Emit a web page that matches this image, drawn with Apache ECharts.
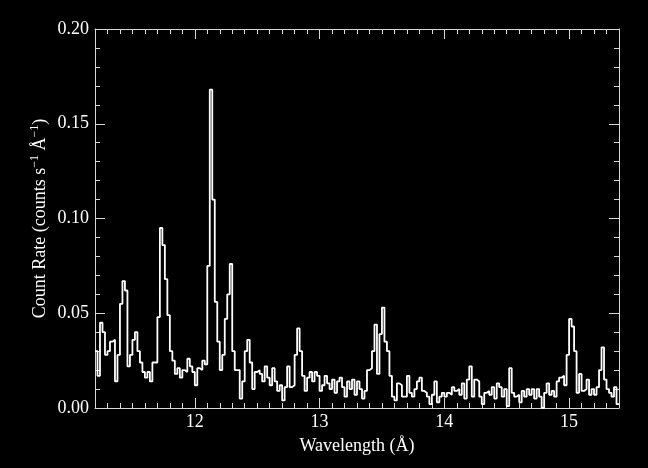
<!DOCTYPE html>
<html>
<head>
<meta charset="utf-8">
<script src="https://cdn.jsdelivr.net/npm/echarts@6/dist/echarts.min.js"></script>
<style>
html,body{margin:0;padding:0;background:#000;}
#c{width:648px;height:468px;}
</style>
</head>
<body>
<div id="c"></div>
<script>
// Wavelength grid (Å): bins of 0.02 Å starting at 11.20
const binStart = 11.20;
const binWidth = 0.02;
const xTicks = [12, 13, 14, 15];

// Count rate (counts s^-1 Å^-1), one value per bin
const rate1120 = [0.030, 0.017, 0.045, 0.040, 0.028, 0.030, 0.035, 0.036, 0.014, 0.028,
                  0.055, 0.067, 0.062, 0.022, 0.028, 0.036, 0.040, 0.030, 0.024, 0.019,
                  0.016, 0.019, 0.014, 0.024, 0.024, 0.048, 0.095, 0.086, 0.068, 0.049,
                  0.030, 0.025, 0.018, 0.021, 0.016, 0.020, 0.019, 0.026, 0.022, 0.019];
const rate1200 = [0.012, 0.021, 0.020, 0.025, 0.023, 0.075, 0.168, 0.110, 0.056, 0.035,
                  0.020, 0.028, 0.047, 0.060, 0.076, 0.030, 0.020, 0.020, 0.005, 0.014,
                  0.030, 0.036, 0.024, 0.010, 0.019, 0.020, 0.018, 0.014, 0.022, 0.016,
                  0.012, 0.021, 0.014, 0.009, 0.012, 0.004, 0.011, 0.022, 0.011, 0.012];
const rate1280 = [0.028, 0.042, 0.030, 0.017, 0.009, 0.016, 0.019, 0.014, 0.019, 0.017,
                  0.009, 0.012, 0.017, 0.013, 0.010, 0.015, 0.008, 0.014, 0.016, 0.011,
                  0.006, 0.014, 0.010, 0.015, 0.007, 0.014, 0.010, 0.005, 0.009, 0.020,
                  0.021, 0.030, 0.044, 0.018, 0.039, 0.053, 0.035, 0.030, 0.017, 0.006];
const rate1360 = [0.004, 0.013, 0.012, 0.006, 0.006, 0.017, 0.008, 0.006, 0.010, 0.014,
                  0.016, 0.009, 0.008, 0.006, 0.002, 0.007, 0.014, 0.003, 0.006, 0.008,
                  0.006, 0.008, 0.007, 0.011, 0.009, 0.010, 0.007, 0.013, 0.005, 0.015,
                  0.022, 0.006, 0.015, 0.014, 0.006, 0.002, 0.008, 0.009, 0.007, 0.011];
const rate1440 = [0.005, 0.013, 0.011, 0.006, 0.010, 0.001, 0.021, 0.008, 0.006, 0.007,
                  0.003, 0.009, 0.006, 0.010, 0.007, 0.010, 0.005, 0.010, 0.006, 0.000,
                  0.008, 0.013, 0.007, 0.009, 0.006, 0.014, 0.016, 0.017, 0.012, 0.028,
                  0.047, 0.043, 0.030, 0.008, 0.018, 0.009, 0.010, 0.015, 0.007, 0.010,
                  0.007, 0.011, 0.020, 0.032, 0.015, 0.010, 0.008, 0.006, 0.011, 0.002];

const rate = [].concat(rate1120, rate1200, rate1280, rate1360, rate1440);
const data = rate.map((v, i) => [+(binStart + i * binWidth).toFixed(2), v]);
data.push([+(binStart + rate.length * binWidth).toFixed(2), rate[rate.length - 1]]);

const FONT = "'Liberation Serif', 'DejaVu Serif', serif";
const AXC = '#d8d8d8';
const FS = 18;

const chart = echarts.init(document.getElementById('c'), null, {renderer: 'canvas'});
const xMin = 11.2, xMax = 15.4;
const baseX = {
  type: 'value', min: xMin, max: xMax, gridIndex: 0,
  splitLine: {show: false}
};
chart.setOption({
  backgroundColor: '#000',
  animation: false,
  grid: {left: 95, right: 29, top: 29, bottom: 60},
  xAxis: [
    Object.assign({}, baseX, {
      position: 'bottom',
      axisLine: {show: true, lineStyle: {color: AXC, width: 1}},
      axisTick: {show: true, inside: true, length: 10, customValues: xTicks, lineStyle: {color: AXC}},
      axisLabel: {show: true, customValues: xTicks, color: '#fff', fontFamily: FONT, fontSize: FS, margin: 5},
      name: 'Wavelength (Å)', nameLocation: 'middle', nameGap: 29, nameMoveOverlap: false,
      nameTextStyle: {color: '#fff', fontFamily: FONT, fontSize: FS}
    }),
    Object.assign({}, baseX, {
      position: 'bottom', interval: 0.1,
      axisLine: {show: false},
      axisTick: {show: true, inside: true, length: 5, lineStyle: {color: AXC}},
      axisLabel: {show: false}
    }),
    Object.assign({}, baseX, {
      position: 'top',
      axisLine: {show: true, lineStyle: {color: AXC, width: 1}},
      axisTick: {show: true, inside: true, length: 10, customValues: xTicks, lineStyle: {color: AXC}},
      axisLabel: {show: false}
    }),
    Object.assign({}, baseX, {
      position: 'top', interval: 0.1,
      axisLine: {show: false},
      axisTick: {show: true, inside: true, length: 5, lineStyle: {color: AXC}},
      axisLabel: {show: false}
    })
  ],
  yAxis: [
    {
      type: 'value', min: 0, max: 0.2, interval: 0.05, position: 'left',
      axisLine: {show: true, lineStyle: {color: AXC, width: 1}},
      axisTick: {show: true, inside: true, length: 10, lineStyle: {color: AXC}},
      minorTick: {show: true, splitNumber: 5, length: 5, lineStyle: {color: AXC}},
      splitLine: {show: false},
      axisLabel: {color: '#fff', fontFamily: FONT, fontSize: FS, margin: 6,
                  formatter: v => v.toFixed(2)},
      name: 'Count Rate (counts s{sup|−1} Å{sup|−1})',
      nameLocation: 'middle', nameGap: 44, nameMoveOverlap: false,
      nameTextStyle: {color: '#fff', fontFamily: FONT, fontSize: FS, lineHeight: 22,
        rich: {sup: {color: '#fff', fontFamily: FONT, fontSize: 12, verticalAlign: 'top', lineHeight: 22}}}
    },
    {
      type: 'value', min: 0, max: 0.2, interval: 0.05, position: 'right',
      axisLine: {show: true, lineStyle: {color: AXC, width: 1}},
      axisTick: {show: true, inside: true, length: 10, lineStyle: {color: AXC}},
      minorTick: {show: true, splitNumber: 5, length: 5, lineStyle: {color: AXC}},
      splitLine: {show: false},
      axisLabel: {show: false}
    }
  ],
  series: [{
    type: 'line', xAxisIndex: 0, yAxisIndex: 0,
    step: 'end', showSymbol: false, symbol: 'none',
    lineStyle: {color: '#fff', width: 1.8},
    data: data
  }]
});
</script>
</body>
</html>
